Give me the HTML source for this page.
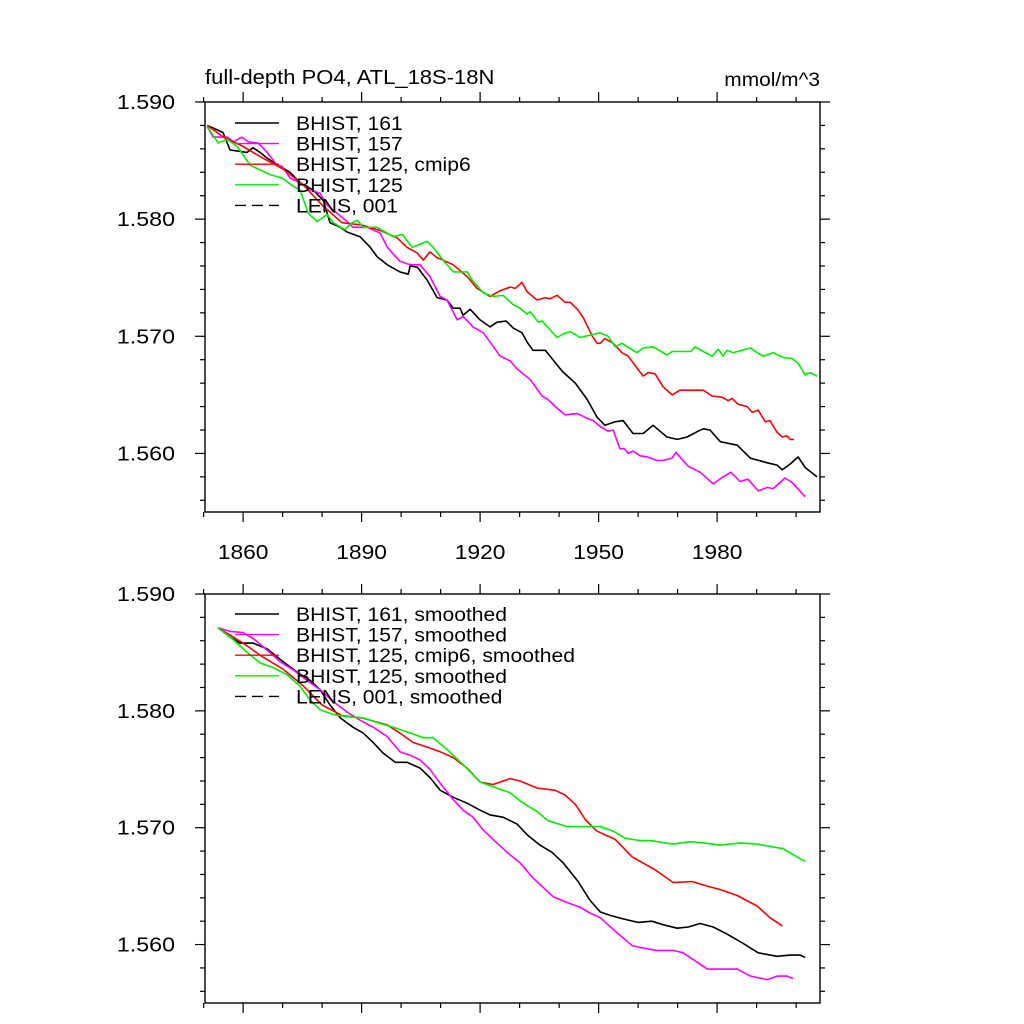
<!DOCTYPE html>
<html><head><meta charset="utf-8">
<style>
body{margin:0;background:#fff;}
svg{display:block;font-family:"Liberation Sans",sans-serif;}
</style></head>
<body>
<svg id="chart" width="1024" height="1024" viewBox="0 0 1024 1024" xmlns="http://www.w3.org/2000/svg">
<rect width="1024" height="1024" fill="#fff"/>
<text class="stretch" data-f="1.10" x="205" y="84" font-size="20">full-depth PO4, ATL_18S-18N</text>
<text class="stretch" data-f="1.10" x="820" y="86" font-size="19" text-anchor="end">mmol/m^3</text>
</svg>
<script>
// ---- data (top panel: annual) ----
const bhist161Years=[1850.9,1854.9,1856.7,1861.0,1862.5,1864.3,1866.1,1869.4,1871.9,1874.4,1877.7,1880.3,1882.0,1884.6,1886.3,1889.6,1892.2,1893.9,1896.5,1899.7,1901.8,1902.3,1904.1,1906.6,1909.1,1911.6,1913.2,1914.9,1915.7,1917.5,1920.0,1922.5,1924.3,1926.6,1928.4,1930.6,1931.9,1933.4,1936.5,1940.8,1944.1,1947.1,1949.6,1951.6,1954.2,1956.2,1958.7,1961.3,1963.8,1967.3,1969.9,1972.4,1975.2,1976.5,1978.2,1980.8,1985.1,1988.4,1992.7,1995.2,1996.5,1998.5,2000.5,2002.3,2005.3];
const bhist161Values=[1.5880,1.5874,1.5859,1.5857,1.5861,1.5857,1.5852,1.5845,1.5840,1.5831,1.5825,1.5816,1.5797,1.5793,1.5789,1.5785,1.5776,1.5768,1.5761,1.5755,1.5753,1.5760,1.5759,1.5748,1.5733,1.5731,1.5724,1.5724,1.5718,1.5723,1.5714,1.5708,1.5712,1.5713,1.5707,1.5703,1.5695,1.5688,1.5688,1.5670,1.5660,1.5646,1.5631,1.5624,1.5627,1.5628,1.5617,1.5617,1.5624,1.5614,1.5612,1.5614,1.5619,1.5621,1.5620,1.5610,1.5607,1.5596,1.5592,1.5590,1.5586,1.5591,1.5597,1.5588,1.5580];
const bhist157Years=[1850.9,1852.4,1856.0,1857.5,1859.7,1861.3,1863.8,1866.1,1868.6,1869.9,1871.9,1874.4,1877.0,1879.5,1881.3,1883.8,1886.3,1887.8,1891.4,1894.7,1896.5,1899.7,1902.3,1904.8,1907.3,1909.9,1911.6,1914.2,1915.7,1918.2,1920.8,1925.1,1927.6,1929.4,1932.7,1935.7,1937.2,1939.0,1941.5,1944.6,1947.1,1948.6,1950.4,1952.4,1953.7,1955.4,1956.5,1957.5,1958.7,1960.5,1962.3,1964.8,1966.3,1968.6,1969.6,1971.1,1972.7,1975.7,1979.0,1981.5,1983.5,1985.8,1987.8,1990.4,1992.7,1994.2,1997.2,1999.0,2002.3];
const bhist157Values=[1.5879,1.5870,1.5870,1.5866,1.5870,1.5866,1.5865,1.5857,1.5846,1.5845,1.5835,1.5831,1.5825,1.5822,1.5812,1.5805,1.5798,1.5793,1.5793,1.5788,1.5776,1.5764,1.5761,1.5761,1.5751,1.5734,1.5731,1.5714,1.5717,1.5708,1.5703,1.5683,1.5679,1.5672,1.5663,1.5649,1.5646,1.5640,1.5633,1.5634,1.5630,1.5628,1.5623,1.5619,1.5620,1.5604,1.5604,1.5600,1.5602,1.5598,1.5597,1.5594,1.5594,1.5596,1.5601,1.5595,1.5589,1.5584,1.5574,1.5580,1.5584,1.5576,1.5578,1.5568,1.5571,1.5570,1.5579,1.5575,1.5563];
const bhist125c6Years=[1850.9,1855.0,1860.0,1865.0,1870.0,1875.0,1880.0,1885.0,1890.0,1895.0,1899.0,1901.5,1904.1,1905.6,1907.3,1909.1,1910.6,1913.2,1916.7,1919.2,1922.5,1925.1,1927.6,1928.9,1930.6,1931.9,1934.4,1936.5,1937.7,1939.5,1941.5,1942.8,1944.6,1946.1,1948.4,1949.6,1950.4,1951.6,1953.7,1955.9,1957.5,1959.7,1961.3,1962.5,1964.3,1966.3,1968.6,1970.6,1972.7,1974.9,1976.5,1978.7,1981.3,1982.8,1983.8,1985.3,1987.6,1988.9,1990.4,1992.2,1993.4,1995.2,1996.5,1997.7,1998.5,1999.5];
const bhist125c6Values=[1.5880,1.5870,1.5862,1.5852,1.5843,1.5830,1.5812,1.5797,1.5795,1.5790,1.5784,1.5776,1.5771,1.5765,1.5772,1.5767,1.5765,1.5761,1.5751,1.5741,1.5734,1.5739,1.5742,1.5741,1.5746,1.5738,1.5731,1.5733,1.5732,1.5735,1.5729,1.5729,1.5723,1.5716,1.5700,1.5694,1.5694,1.5698,1.5694,1.5686,1.5683,1.5673,1.5666,1.5669,1.5668,1.5657,1.5650,1.5654,1.5654,1.5654,1.5654,1.5649,1.5648,1.5645,1.5647,1.5642,1.5640,1.5635,1.5637,1.5627,1.5628,1.5618,1.5614,1.5615,1.5612,1.5612];
const bhist125Years=[1850.9,1853.7,1856.0,1858.5,1861.8,1864.3,1866.8,1869.9,1872.7,1874.4,1876.5,1878.7,1881.3,1882.8,1885.8,1887.6,1888.9,1890.4,1893.9,1896.5,1898.0,1900.3,1902.8,1906.6,1908.1,1910.6,1913.2,1916.7,1918.2,1920.8,1923.3,1925.8,1928.4,1930.1,1931.9,1932.7,1934.7,1935.7,1939.5,1941.0,1942.8,1945.3,1947.8,1950.4,1952.4,1954.2,1955.9,1959.7,1961.3,1963.8,1967.3,1968.6,1971.4,1973.4,1974.4,1976.5,1978.7,1980.3,1981.5,1982.5,1984.1,1988.4,1991.6,1994.2,1996.7,1999.0,2000.5,2002.3,2003.5,2005.3];
const bhist125Values=[1.5879,1.5865,1.5868,1.5862,1.5846,1.5842,1.5838,1.5835,1.5828,1.5825,1.5805,1.5798,1.5804,1.5797,1.5791,1.5797,1.5799,1.5793,1.5793,1.5788,1.5785,1.5787,1.5776,1.5781,1.5776,1.5765,1.5755,1.5755,1.5747,1.5737,1.5734,1.5735,1.5727,1.5724,1.5719,1.5721,1.5712,1.5713,1.5699,1.5702,1.5704,1.5699,1.5701,1.5703,1.5700,1.5691,1.5694,1.5686,1.5690,1.5691,1.5684,1.5687,1.5687,1.5687,1.5691,1.5687,1.5683,1.5689,1.5683,1.5688,1.5686,1.5690,1.5683,1.5686,1.5682,1.5681,1.5677,1.5667,1.5669,1.5666];
// ---- data (bottom panel: smoothed) ----
const sm161Years=[1853.7,1856.7,1859.2,1862.5,1866.1,1869.4,1873.7,1877.0,1879.5,1882.0,1884.6,1887.8,1890.4,1892.9,1895.4,1898.5,1901.5,1904.8,1907.3,1909.9,1913.2,1916.7,1920.0,1922.5,1925.8,1929.4,1931.9,1935.2,1938.2,1941.0,1944.8,1947.8,1950.4,1952.9,1956.2,1960.0,1963.5,1966.3,1969.9,1972.7,1975.7,1979.0,1982.5,1986.6,1990.4,1995.2,1998.5,2001.0,2002.3];
const sm161Values=[1.5871,1.5863,1.5858,1.5858,1.5853,1.5844,1.5833,1.5826,1.5818,1.5805,1.5794,1.5786,1.5781,1.5773,1.5764,1.5756,1.5756,1.5751,1.5743,1.5732,1.5726,1.5721,1.5715,1.5711,1.5709,1.5703,1.5694,1.5685,1.5679,1.5670,1.5654,1.5638,1.5628,1.5625,1.5622,1.5619,1.5620,1.5617,1.5614,1.5615,1.5618,1.5615,1.5609,1.5601,1.5593,1.5590,1.5591,1.5591,1.5589];
const sm157Years=[1853.7,1856.7,1860.0,1862.5,1866.1,1869.4,1872.7,1876.2,1879.5,1882.8,1886.3,1889.6,1892.9,1896.5,1899.7,1902.3,1904.8,1907.3,1909.9,1913.2,1915.7,1918.2,1920.8,1923.3,1926.8,1930.1,1933.4,1938.5,1942.0,1945.3,1947.8,1950.4,1954.7,1958.5,1961.3,1964.8,1968.9,1971.4,1977.5,1980.8,1985.1,1988.4,1992.7,1995.2,1997.7,1999.2];
const sm157Values=[1.5871,1.5868,1.5867,1.5862,1.5852,1.5842,1.5835,1.5826,1.5818,1.5808,1.5799,1.5792,1.5786,1.5778,1.5765,1.5762,1.5758,1.5750,1.5738,1.5724,1.5715,1.5709,1.5698,1.5690,1.5679,1.5670,1.5657,1.5641,1.5636,1.5632,1.5627,1.5623,1.5610,1.5599,1.5597,1.5595,1.5595,1.5593,1.5579,1.5579,1.5579,1.5573,1.5570,1.5573,1.5573,1.5571];
const sm125c6Years=[1853.7,1860.0,1865.0,1870.0,1875.0,1880.0,1885.0,1890.0,1896.5,1899.7,1903.0,1906.6,1909.9,1913.2,1916.7,1920.0,1923.3,1927.6,1930.1,1934.4,1939.0,1941.5,1944.1,1946.6,1949.6,1954.2,1958.5,1964.3,1968.9,1973.7,1977.5,1980.8,1985.1,1990.1,1993.4,1996.5];
const sm125c6Values=[1.5871,1.5858,1.5846,1.5836,1.5822,1.5805,1.5796,1.5794,1.5788,1.5781,1.5773,1.5769,1.5765,1.5760,1.5751,1.5739,1.5737,1.5742,1.5740,1.5734,1.5732,1.5728,1.5720,1.5707,1.5697,1.5690,1.5675,1.5664,1.5653,1.5654,1.5650,1.5647,1.5642,1.5633,1.5623,1.5616];
const sm125Years=[1853.7,1857.5,1861.0,1864.3,1867.6,1871.1,1874.4,1877.0,1879.5,1882.8,1886.3,1890.4,1893.9,1898.0,1901.5,1905.6,1908.1,1911.6,1915.7,1920.0,1923.3,1927.6,1930.9,1934.4,1937.2,1942.0,1947.8,1950.4,1953.7,1956.7,1960.5,1963.0,1968.9,1973.2,1976.5,1980.8,1985.8,1990.1,1993.4,1996.7,1999.2,2002.3];
const sm125Values=[1.5871,1.5861,1.5850,1.5841,1.5837,1.5831,1.5821,1.5809,1.5801,1.5797,1.5795,1.5794,1.5790,1.5786,1.5782,1.5777,1.5777,1.5767,1.5754,1.5739,1.5735,1.5730,1.5721,1.5714,1.5706,1.5701,1.5701,1.5701,1.5697,1.5691,1.5689,1.5689,1.5686,1.5688,1.5687,1.5685,1.5687,1.5686,1.5684,1.5682,1.5677,1.5671];
const xMajorTicks=[1860,1890,1920,1950,1980];
const xMinorTicks=[1850,1870,1880,1900,1910,1930,1940,1960,1970,1990,2000];
const yMajorTicks=[1.560,1.570,1.580,1.590];
const yMinorTicks=[1.556,1.558,1.562,1.564,1.566,1.568,1.572,1.574,1.576,1.578,1.582,1.584,1.586,1.588];
const topLegendLabels=["BHIST, 161","BHIST, 157","BHIST, 125, cmip6","BHIST, 125","LENS, 001"];
const botLegendLabels=["BHIST, 161, smoothed","BHIST, 157, smoothed","BHIST, 125, cmip6, smoothed","BHIST, 125, smoothed","LENS, 001, smoothed"];

const NS="http://www.w3.org/2000/svg";
const svg=document.getElementById('chart');
const X0=205,X1=820,YR0=1850.35,YR1=2006.05,V0=1.5550,V1=1.5900;
function mk(tag,attrs,parent){const e=document.createElementNS(NS,tag);for(const k in attrs)e.setAttribute(k,attrs[k]);(parent||svg).appendChild(e);return e;}
function xs(yr){return X0+(yr-YR0)/(YR1-YR0)*(X1-X0);}

function panel(top,bottom,name,showX,series,legendLabels,legendY){
  const ys=v=>bottom-(v-V0)/(V1-V0)*(bottom-top);
  const g=mk('g',{});
  
  
  const colors=['#000','#ff00ff','#ff0000','#00ee00'];
  series.forEach((s,i)=>{
    const d=s[0].map((yr,j)=>(j?'L':'M')+xs(yr).toFixed(1)+','+ys(s[1][j]).toFixed(1)).join('');
    const p=mk('path',{d:d,fill:'none',stroke:colors[i],'stroke-width':1.6,'stroke-linejoin':'round'},g);
    
    
  });
  const fr=mk('rect',{x:X0,y:top,width:X1-X0,height:bottom-top,fill:'none',stroke:'#000','stroke-width':1.4},g);
  
  
  const tk=mk('g',{stroke:'#000','stroke-width':1.2},g);
  
  
  xMajorTicks.forEach(t=>{const x=xs(t);mk('line',{x1:x,x2:x,y1:bottom,y2:bottom+10},tk);mk('line',{x1:x,x2:x,y1:top,y2:top-10},tk);
    if(showX){const l=mk('text',{x:x,y:bottom+47,'font-size':20,'text-anchor':'middle',fill:'#000',stroke:'none','class':'stretch','data-f':'1.14'},g);l.textContent=t;
      
      }});
  xMinorTicks.forEach(t=>{const x=xs(t);mk('line',{x1:x,x2:x,y1:bottom,y2:bottom+5},tk);mk('line',{x1:x,x2:x,y1:top,y2:top-5},tk);});
  yMajorTicks.forEach(t=>{const y=ys(t);mk('line',{x1:X0,x2:X0-10,y1:y,y2:y},tk);mk('line',{x1:X1,x2:X1+10,y1:y,y2:y},tk);
    const l=mk('text',{x:175,y:y+7,'font-size':20,'text-anchor':'end',fill:'#000','class':'stretch','data-f':'1.16'},g);l.textContent=t.toFixed(3);
    
    });
  yMinorTicks.forEach(t=>{const y=ys(t);mk('line',{x1:X0,x2:X0-5,y1:y,y2:y},tk);mk('line',{x1:X1,x2:X1+5,y1:y,y2:y},tk);});
  const lg=mk('g',{},g);
  
  
  legendLabels.forEach((lab,i)=>{
    const y=legendY+i*20.6;
    const ln=mk('line',{x1:235,x2:279,y1:y,y2:y,stroke:colors[i]||'#000','stroke-width':1.4},lg);
    if(i===4)ln.setAttribute('stroke-dasharray','11,6');
    
    
    const t=mk('text',{x:296,y:y+7,'font-size':19,fill:'#000','class':'stretch','data-f':'1.11'},lg);t.textContent=lab;
    
    
  });
}
panel(102,512,'top-panel',true,[
  [bhist161Years,bhist161Values,'series-bhist-161'],
  [bhist157Years,bhist157Values,'series-bhist-157'],
  [bhist125c6Years,bhist125c6Values,'series-bhist-125-cmip6'],
  [bhist125Years,bhist125Values,'series-bhist-125']],topLegendLabels,123);
panel(594,1003,'bottom-panel',false,[
  [sm161Years,sm161Values,'series-bhist-161-smoothed'],
  [sm157Years,sm157Values,'series-bhist-157-smoothed'],
  [sm125c6Years,sm125c6Values,'series-bhist-125-cmip6-smoothed'],
  [sm125Years,sm125Values,'series-bhist-125-smoothed']],botLegendLabels,614);
// widen text horizontally to match reference font metrics
document.querySelectorAll('text.stretch').forEach(t=>{
  const w=t.getComputedTextLength();
  const f=parseFloat(t.getAttribute('data-f'));
  t.setAttribute('textLength',(w*f).toFixed(1));
  t.setAttribute('lengthAdjust','spacingAndGlyphs');
});
</script>
</body></html>
